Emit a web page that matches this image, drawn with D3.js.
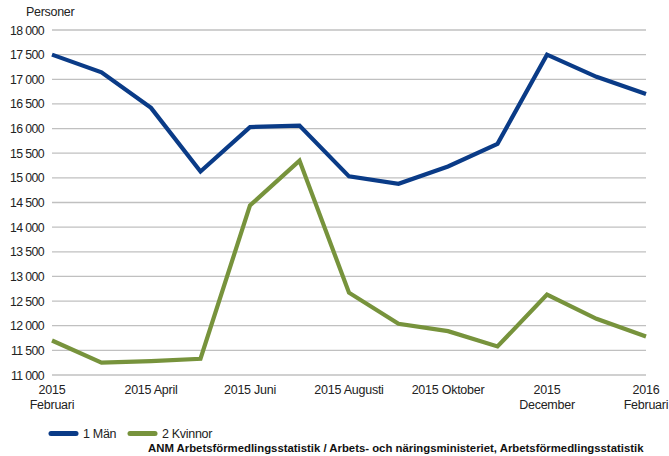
<!DOCTYPE html>
<html><head><meta charset="utf-8">
<script src="https://cdn.jsdelivr.net/npm/d3@7"></script>
<style>body{margin:0;background:#fff}svg{display:block;font-family:"Liberation Sans",Arial,sans-serif}</style>
</head><body><svg id="c" width="669" height="456"></svg>
<script>
const months = ["2015-02","2015-03","2015-04","2015-05","2015-06","2015-07","2015-08","2015-09","2015-10","2015-11","2015-12","2016-01","2016-02"];
const tickLabels = [["2015","Februari"],null,["2015 April"],null,["2015 Juni"],null,["2015 Augusti"],null,["2015 Oktober"],null,["2015","December"],null,["2016","Februari"]];
const man = [17500,17140,16420,15130,16030,16060,15030,14880,15230,15690,17500,17050,16700];
const kvinnor = [11700,11250,11280,11330,14440,15350,12670,12040,11890,11580,12630,12140,11780];
const yTicks = [11000,11500,12000,12500,13000,13500,14000,14500,15000,15500,16000,16500,17000,17500,18000];
const seriesNames = ["1 Män","2 Kvinnor"];
const colors = ["#0a3b87","#77933c"];
const source = "ANM Arbetsförmedlingsstatistik / Arbets- och näringsministeriet, Arbetsförmedlingsstatistik";

const svg = d3.select("#c");
const x = d3.scalePoint().domain(months).range([52,646]);
const y = d3.scaleLinear().domain([11000,18000]).range([375,30]);
const fmt = v => d3.format(",")(v).replace(",", " ");

// grid
svg.append("g").selectAll("line").data(yTicks).join("line")
  .attr("x1",52).attr("x2",646).attr("y1",d=>y(d)).attr("y2",d=>y(d))
  .attr("stroke","#c0c0c0").attr("stroke-width",1.3);

// y labels
svg.append("g").selectAll("text").data(yTicks).join("text")
  .attr("x",44).attr("y",d=>y(d)+4.5).attr("text-anchor","end")
  .attr("font-size",12.3).attr("fill","#222").attr("letter-spacing",-0.6).text(fmt);

svg.append("text").attr("x",26).attr("y",16).attr("font-size",12.5).attr("fill","#222").attr("letter-spacing",-0.3).text("Personer");

// x labels
const xl = svg.append("g");
months.forEach((m,i)=>{
  const t = tickLabels[i]; if(!t) return;
  const txt = xl.append("text").attr("text-anchor","middle").attr("font-size",12.5).attr("fill","#222").attr("letter-spacing",-0.25);
  let cx = x(m);
  if(i===months.length-1) cx = 669-23;
  t.forEach((s,j)=>txt.append("tspan").attr("x",cx).attr("y",393.5+j*15.5).text(s));
});

// lines
const line = d3.line().x((d,i)=>x(months[i])).y(d=>y(d));
[man,kvinnor].forEach((s,k)=>{
  svg.append("path").datum(s).attr("d",line).attr("fill","none")
    .attr("stroke",colors[k]).attr("stroke-width",4.2).attr("stroke-linejoin","miter");
});

// legend
const lg = svg.append("g");
[[51,83],[130,162]].forEach((p,k)=>{
  lg.append("line").attr("x1",p[0]).attr("x2",p[0]+25).attr("y1",433.5).attr("y2",433.5)
    .attr("stroke",colors[k]).attr("stroke-width",5).attr("stroke-linecap","round");
  lg.append("text").attr("x",p[1]).attr("y",438).attr("font-size",12.5).attr("fill","#222").attr("letter-spacing",-0.3).text(seriesNames[k]);
});
svg.append("text").attr("x",148).attr("y",451.5).attr("font-size",11.35).attr("font-weight","bold").attr("fill","#111").text(source);
</script></body></html>
